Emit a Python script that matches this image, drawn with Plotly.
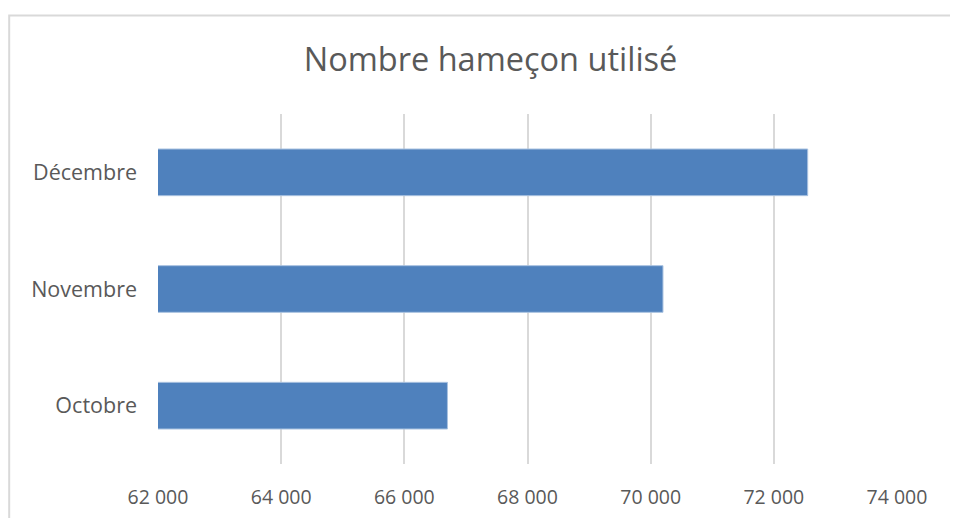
import plotly.graph_objects as go

categories = ["Octobre", "Novembre", "Décembre"]
values = [66700, 70200, 72550]
x_ticks = [62000, 64000, 66000, 68000, 70000, 72000, 74000]
title_text = "Nombre hameçon utilisé"

# page body adds an 8px offset; positions below are in figure pixels
W, H = 950, 510
L, R, T, B = 150.3, 889.3, 106, 456

fig = go.Figure(go.Bar(
    y=categories, x=values, orientation="h",
    marker=dict(color="#4f81bd", line=dict(color="#a9c2e0", width=1)),
    width=0.4,
))

def px_to_paper_x(px):
    return (px - L) / (R - L)

def px_to_paper_y(py):
    return (B - py) / (B - T)

fig.add_shape(type="rect", xref="paper", yref="paper",
              x0=px_to_paper_x(1.5), x1=px_to_paper_x(990),
              y0=px_to_paper_y(560), y1=px_to_paper_y(7.5),
              line=dict(color="#d9d9d9", width=2), fillcolor="rgba(0,0,0,0)", layer="below")

fig.update_layout(
    width=W, height=H,
    margin=dict(l=L, r=W - R, t=T, b=H - B, autoexpand=False),
    paper_bgcolor="white", plot_bgcolor="white",
    separators=", ",
    font=dict(family="Open Sans, sans-serif", color="#595959", size=18),
    title=dict(text=title_text, x=482.5 / W, xref="container", xanchor="center",
               y=1 - 52 / H, yanchor="middle",
               font=dict(size=32.5, color="#595959")),
    showlegend=False,
    xaxis=dict(range=[62000, 74000], tickvals=x_ticks, tickformat=",d",
               showgrid=True, gridcolor="#d9d9d9", gridwidth=1.5,
               zeroline=False, showline=False, ticks="",
               ticklabelstandoff=19, tickfont=dict(size=19.5)),
    yaxis=dict(showgrid=False, zeroline=False, showline=False, ticks="",
               ticklabelstandoff=20, tickfont=dict(size=21.5)),
)

fig.write_html("out.html")
